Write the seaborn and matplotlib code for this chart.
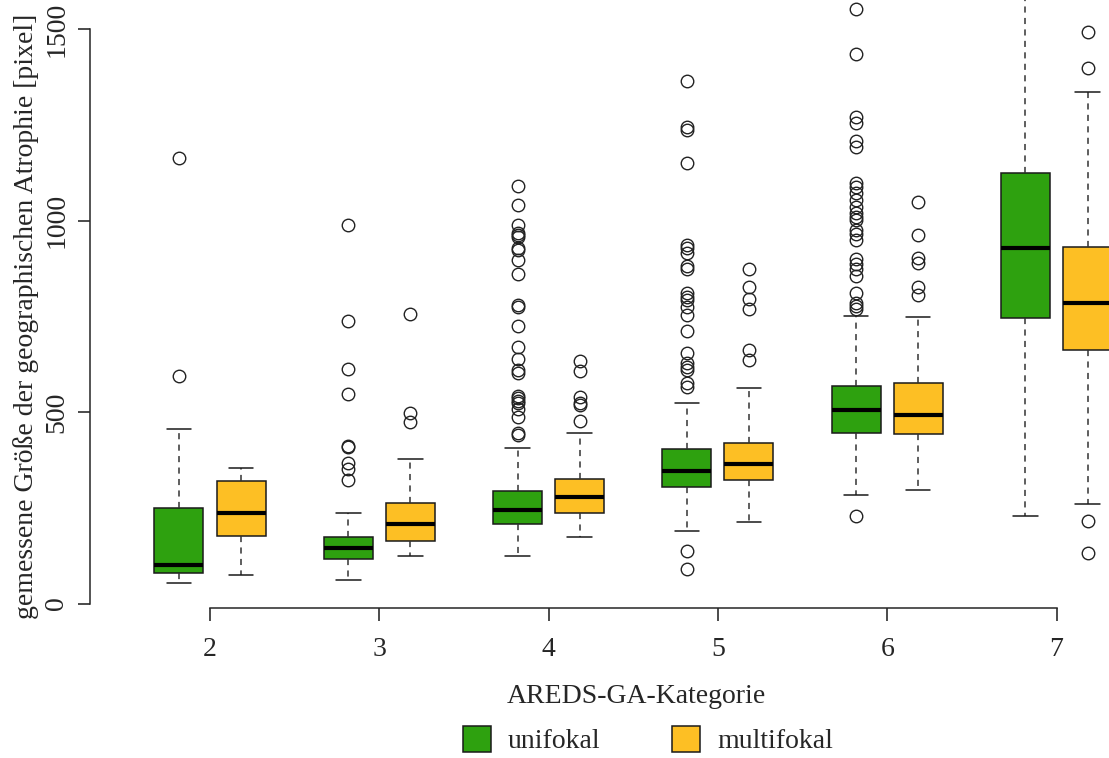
import numpy as np
import pandas as pd
import matplotlib
matplotlib.use("Agg")
import matplotlib.pyplot as plt
import seaborn as sns

# AREDS-GA categories on the x axis
categories = ["2", "3", "4", "5", "6", "7"]
groups = ["unifokal", "multifokal"]

# Five-number summaries per category (lower whisker, Q1, median, Q3, upper whisker)
uni_low = [54, 61, 125, 189, 283, 229]
uni_q1 = [80, 116, 207, 304, 445, 745]
uni_med = [100, 145, 245, 347, 505, 929]
uni_q3 = [250, 173, 294, 403, 568, 1124]
uni_high = [456, 237, 406, 524, 750, 1650]

multi_low = [74, 123, 174, 212, 297, 260]
multi_q1 = [176, 162, 236, 322, 442, 662]
multi_med = [237, 208, 279, 363, 493, 784]
multi_q3 = [320, 262, 324, 420, 576, 932]
multi_high = [355, 377, 444, 563, 747, 1335]

# Outliers per category
uni_out = [
    [595, 1164],
    [989, 737, 611, 546, 411, 408, 367, 352, 323],
    [1091, 1041, 989, 967, 962, 958, 927, 922, 896, 861, 780, 775, 724,
     669, 639, 610, 601, 542, 536, 530, 523, 507, 488, 445, 440],
    [137, 89, 1363, 1245, 1235, 1151, 936, 927, 916, 880, 874, 812, 801,
     793, 774, 753, 712, 653, 627, 618, 610, 575, 566],
    [229, 1553, 1434, 1270, 1254, 1207, 1193, 1099, 1087, 1071, 1054, 1036,
     1019, 1010, 1002, 976, 965, 948, 899, 887, 873, 855, 810, 784, 777, 768],
    [],
]
multi_out = [
    [],
    [755, 497, 474],
    [634, 608, 540, 523, 518, 477],
    [873, 827, 796, 768, 662, 636],
    [1047, 962, 903, 889, 827, 806],
    [1493, 1397, 215, 133],
]


def sample_from_summary(low, q1, med, q3, high, outliers):
    """Sample whose quartiles, whiskers and outliers equal the given summary."""
    lows = [v for v in outliers if v < q1]
    highs = [v for v in outliers if v > q3]
    t = len(lows) + len(highs) + 2
    return (lows + [low] + [q1] * (3 * t) + [med] * (2 * t)
            + [q3] * (3 * t) + [high] + highs)


rows = []
for i, cat in enumerate(categories):
    for v in sample_from_summary(uni_low[i], uni_q1[i], uni_med[i], uni_q3[i],
                                 uni_high[i], uni_out[i]):
        rows.append((cat, "unifokal", v))
    for v in sample_from_summary(multi_low[i], multi_q1[i], multi_med[i],
                                 multi_q3[i], multi_high[i], multi_out[i]):
        rows.append((cat, "multifokal", v))
df = pd.DataFrame(rows, columns=["Kategorie", "Fokalität", "Größe"])

sns.set_theme(style="ticks")
plt.rcParams["font.family"] = ["Liberation Serif", "DejaVu Serif"]
plt.rcParams["axes.linewidth"] = 1.1

W, H = 1109, 758
fig = plt.figure(figsize=(W / 100, H / 100), dpi=100)

# axes geometry in pixels
spine_x = 90
axis_y = 608
tick2_px, tick7_px = 210, 1056.5
y0_px, y1500_px = 603.5, 29
px_per_cat = (tick7_px - tick2_px) / 5
px_per_val = (y0_px - y1500_px) / 1500

ax = fig.add_axes([spine_x / W, (H - axis_y) / H, (W - spine_x) / W, axis_y / H])

palette = {"unifokal": "#2ea10f", "multifokal": "#fdbf24"}
sns.boxplot(
    data=df, x="Kategorie", y="Größe", hue="Fokalität",
    order=categories, hue_order=groups, palette=palette, saturation=1,
    width=0.733, gap=0.21, whis=1.5, linecolor="#1a1a1a", linewidth=1.1,
    boxprops={"linewidth": 1.1, "edgecolor": "#1a1a1a"},
    medianprops={"color": "black", "linewidth": 3.0, "solid_capstyle": "butt"},
    whiskerprops={"color": "#333333", "linewidth": 1.1, "linestyle": (0, (4, 3.5))},
    capprops={"color": "#1a1a1a", "linewidth": 1.1, "linestyle": "-"},
    flierprops={"marker": "o", "markerfacecolor": "none",
                "markeredgecolor": "#222222", "markersize": 9,
                "markeredgewidth": 1.0},
    ax=ax,
)

ax.set_xlim((spine_x - tick2_px) / px_per_cat, (W - tick2_px) / px_per_cat)
ax.set_ylim((y0_px - axis_y) / px_per_val, y0_px / px_per_val)

for s in ["top", "right"]:
    ax.spines[s].set_visible(False)
ax.spines["left"].set_bounds(0, 1500)
ax.spines["bottom"].set_bounds(0, 5)

ax.set_xticks(range(len(categories)))
ax.set_xticklabels(categories, fontsize=20)
ax.set_yticks([0, 500, 1000, 1500])
ax.set_yticklabels(["0", "500", "1000", "1500"], fontsize=20,
                   rotation=90, va="center")
ax.tick_params(axis="both", direction="out", length=9, width=1.1,
               color="#1a1a1a")
ax.tick_params(axis="x", pad=12)
ax.tick_params(axis="y", pad=6)

ax.set_xlabel("AREDS-GA-Kategorie", fontsize=20, labelpad=16,
              x=(636 - spine_x) / (W - spine_x))
ax.set_ylabel("gemessene Größe der geographischen Atrophie [pixel]",
              fontsize=20, labelpad=4, y=(axis_y - 316) / axis_y)

sns.move_legend(
    ax, "center", bbox_to_anchor=(648 / W, 1 - 740 / H),
    bbox_transform=fig.transFigure, ncol=2, frameon=False, title=None,
    fontsize=20, handlelength=1.0, handleheight=1.1, handletextpad=0.6,
    columnspacing=2.6,
)

fig.savefig("out.png", dpi=100)
